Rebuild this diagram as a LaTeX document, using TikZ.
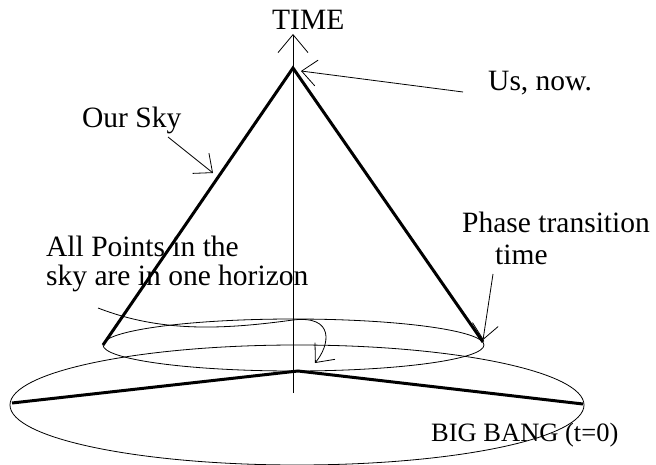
\documentclass[tikz,border=0pt]{standalone}
\usepackage{fontspec}
\setmainfont{Liberation Serif}
\usetikzlibrary{arrows.meta}

\begin{document}
\begin{tikzpicture}[x=1pt,y=-1pt,
		thinline/.style={line width=0.8pt},
		coneline/.style={line width=3pt, line join=miter},
		barb/.style={-{Straight Barb[length=15pt,width=26pt]}, line width=0.8pt},
		lbl/.style={inner sep=0pt, anchor=base west, font=\fontsize{29.5}{34}\selectfont}]
		\useasboundingbox (0,0) rectangle (656,465);
		% Draw time axis
		\node[lbl] (time) at (272,30) {TIME};
		\coordinate (axisbot) at (293,393);
		\coordinate (axistop) at (293,34);
		\draw[thinline, -{Straight Barb[length=18pt,width=30pt]}] (axisbot) -- (axistop);
		% Draw light cone
		\coordinate (apex) at (293,68);
		\coordinate (rimL) at (103,345);
		\coordinate (rimR) at (483,342);
		\draw[coneline] (rimL) -- (apex) -- (rimR);
		% Phase transition slice and big bang
		\draw[thinline] (293.5,345) ellipse[x radius=190.5, y radius=26];
		\draw[thinline] (297,405) ellipse[x radius=287, y radius=60];
		\coordinate (bangL) at (12,403);
		\coordinate (bangM) at (298,371);
		\coordinate (bangR) at (583,404);
		\draw[coneline] (bangL) -- (bangM) -- (bangR);
		% Label us
		\node[lbl] (us) at (488,91) {Us, now.};
		\coordinate (usfrom) at (463,92);
		\coordinate (ustip) at (301,71);
		\draw[barb] (usfrom) -- (ustip);
		% Label sky
		\node[lbl] (sky) at (82,128) {Our Sky};
		\coordinate (skyfrom) at (168,137);
		\coordinate (skytip) at (213,173);
		\draw[barb] (skyfrom) -- (skytip);
		% Label horizon
		\node[lbl] (horizonA) at (46,257) {All Points in the};
		\node[lbl] (horizonB) at (46,285) {sky are in one horizon};
		\coordinate (horfrom) at (98,308);
		\coordinate (hortip) at (315,363);
		\draw[barb] (horfrom) .. controls (160,332) and (220,330) .. (293,320)
			.. controls (335,315) and (330,345) .. (hortip);
		% Label phase transition
		\node[lbl] (phaseA) at (462,233) {Phase transition};
		\node[lbl] (phaseB) at (495,265) {time};
		\coordinate (phasefrom) at (493,274);
		\coordinate (phasetip) at (483,340);
		\draw[barb] (phasefrom) -- (phasetip);
		% Label big bang
		\node[lbl, font=\fontsize{26.5}{30}\selectfont] (bang) at (431,441) {BIG BANG (t=0)};
	\end{tikzpicture}
\end{document}
